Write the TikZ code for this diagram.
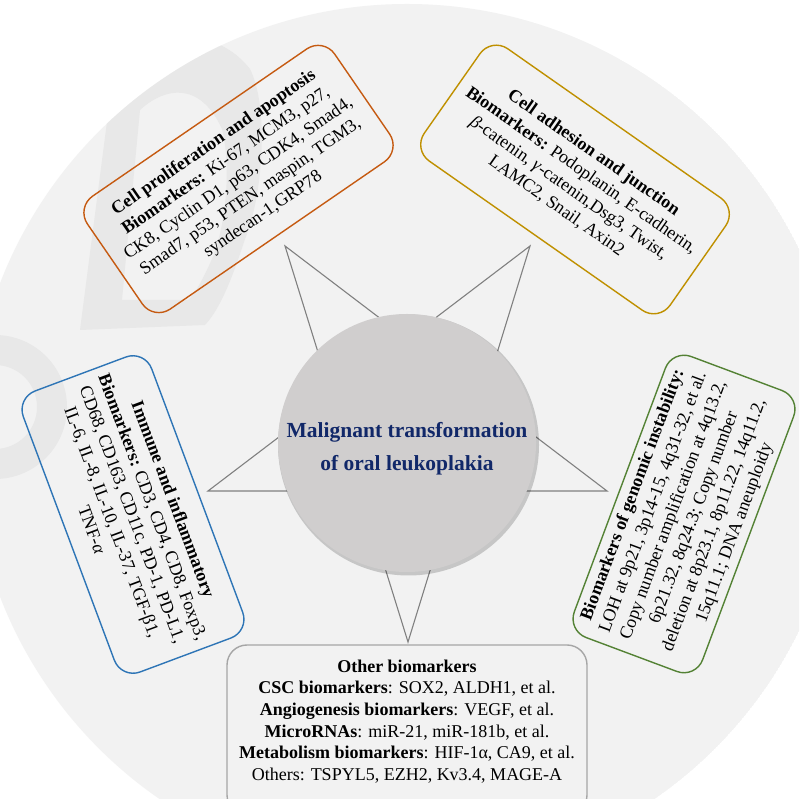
\documentclass[tikz,border=0pt]{standalone}
\usepackage{fontspec}
\setmainfont{Liberation Serif}
\definecolor{bgc}{HTML}{F2F2F2}
\definecolor{wmc}{HTML}{E8E8E8}
\definecolor{hubc}{HTML}{D0CECE}
\definecolor{navyc}{HTML}{112869}
\definecolor{orangec}{HTML}{C55A11}
\definecolor{goldc}{HTML}{BF9000}
\definecolor{bluec}{HTML}{2E75B6}
\definecolor{greenc}{HTML}{548235}
\definecolor{greyc}{HTML}{A6A6A6}
\definecolor{starc}{HTML}{808080}
\begin{document}
\begin{tikzpicture}[x=1pt,y=1pt,
  infobox/.style={draw, line width=1.4pt, rounded corners=20pt,
    minimum width=300pt, minimum height=137pt, align=center,
    font=\fontsize{18}{21.7}\selectfont, inner sep=0pt},
  starline/.style={draw=starc, line width=1.1pt, line join=miter},
  hubtext/.style={align=center, text=navyc,
    font=\bfseries\fontsize{21.5}{33.3}\selectfont}]
\useasboundingbox (0,0) rectangle (799,799);
\clip (0,0) rectangle (799,799);
\fill[white] (0,0) rectangle (799,799);
\begin{scope}
\clip (407,359) circle (436);
\fill[bgc] (407,359) circle (436);
% faint watermark shapes
\fill[wmc, even odd rule]
  (80,469) -- (115,739) .. controls (150,768) and (215,775) .. (250,730)
  .. controls (270,690) and (262,600) .. (245,560)
  .. controls (232,520) and (220,490) .. (205,474) -- cycle
  (122,499) -- (140,689) .. controls (165,712) and (200,718) .. (222,670)
  .. controls (232,630) and (225,570) .. (212,540)
  .. controls (202,518) and (195,505) .. (188,499) -- cycle;
\fill[wmc, even odd rule] (-5,392) circle (72) (-5,392) circle (42);
\end{scope}
% pentagram
\coordinate (ptl) at (285,553);
\coordinate (ptr) at (530,553);
\coordinate (pl) at (208,308);
\coordinate (pr) at (607,308);
\coordinate (pb) at (408,157);
\draw[starline] (ptl) -- (pb) -- (ptr) -- (pl) -- (pr) -- cycle;
% hub
\fill[black, opacity=0.18] (408.5,354) circle (130.5);
\node[circle, fill=hubc, minimum size=258pt, inner sep=0pt] (hub) at (407,356) {};
\node[hubtext] (hubt) at (407,350) {Malignant transformation\\of oral leukoplakia};
% boxes
\node[infobox, draw=orangec, rotate=34.5] (prolif) at (238.5,620)
  {\textbf{Cell proliferation and apoptosis}\\
   \textbf{Biomarkers:} Ki-67, MCM3, p27,\\
   CK8, Cyclin D1, p63, CDK4, Smad4,\\
   Smad7, p53, PTEN, maspin, TGM3,\\
   syndecan-1,GRP78};
\node[infobox, draw=goldc, rotate=-35] (adhes) at (575,619.5)
  {\textbf{Cell adhesion and junction}\\
   \textbf{Biomarkers:} Podoplanin, E-cadherin,\\
   \textit{β}-catenin, \textit{γ}-catenin,Dsg3, Twist,\\
   LAMC2, Snail, Axin2};
\node[infobox, draw=bluec, rotate=-69.5] (immune) at (133,284.5)
  {\textbf{Immune and inflammatory}\\
   \textbf{Biomarkers:} CD3, CD4, CD8, Foxp3,\\
   CD68, CD163, CD11c, PD-1, PD-L1,\\
   IL-6, IL-8, IL-10, IL-37, TGF-β1,\\
   TNF-\textit{α}};
\node[infobox, draw=greenc, rotate=69.5] (genom) at (684,285)
  {\textbf{Biomarkers of genomic instability:}\\
   LOH at 9p21, 3p14-15, 4q31-32, et al.\\
   Copy number amplification at 4q13.2,\\
   6p21.32, 8q24.3; Copy number\\
   deletion at 8p23.1, 8p11.22, 14q11.2,\\
   15q11.1; DNA aneuploidy};
\node[draw=greyc, line width=1.4pt, rounded corners=20pt,
  minimum width=360pt, minimum height=170pt] (other) at (407,69) {};
\node[align=center, font=\fontsize{18}{21.7}\selectfont, inner sep=0pt] (othert) at (407,77.6)
  {\textbf{Other biomarkers}\\
   \textbf{CSC biomarkers}: SOX2, ALDH1, et al.\\
   \textbf{Angiogenesis biomarkers}: VEGF, et al.\\
   \textbf{MicroRNAs}: miR-21, miR-181b, et al.\\
   \textbf{Metabolism biomarkers}: HIF-1α, CA9, et al.\\
   Others: TSPYL5, EZH2, Kv3.4, MAGE-A};
\end{tikzpicture}
\end{document}
